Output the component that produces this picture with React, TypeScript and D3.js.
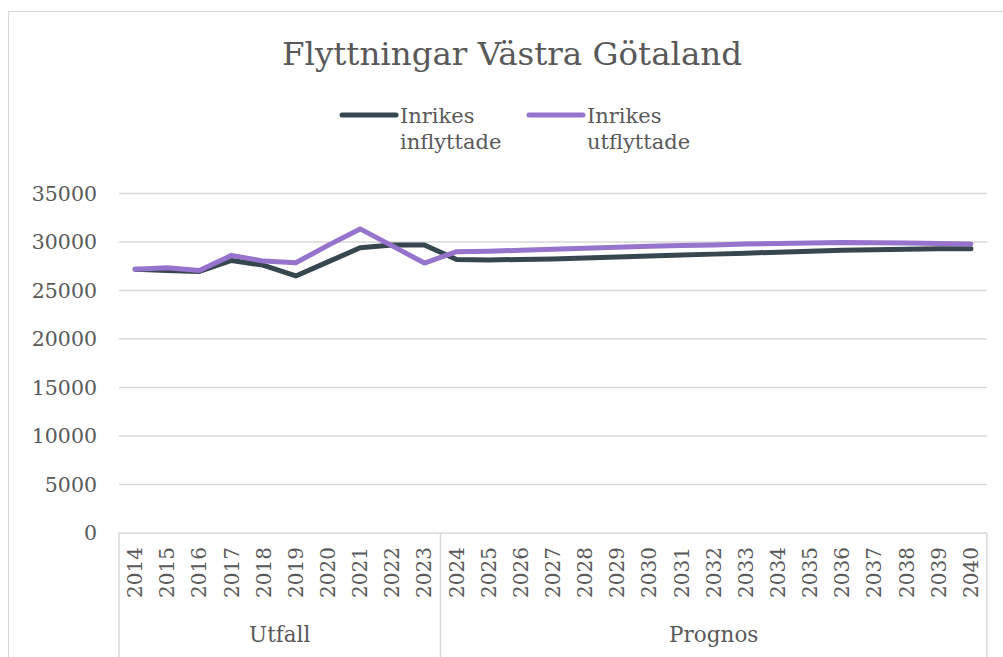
import { useEffect, useRef } from "react";
import * as d3 from "d3";

// Flyttningar Västra Götaland — inrikes in/utflyttade, utfall + prognos
const years = [
  "2014", "2015", "2016", "2017", "2018", "2019", "2020", "2021", "2022", "2023",
  "2024", "2025", "2026", "2027", "2028", "2029", "2030", "2031", "2032", "2033",
  "2034", "2035", "2036", "2037", "2038", "2039", "2040",
];
const inflyttade = [
  27200, 27070, 26970, 28100, 27600, 26500, 27950, 29400, 29700, 29700,
  28200, 28150, 28200, 28250, 28350, 28450, 28550, 28650, 28750, 28850,
  28950, 29050, 29150, 29200, 29250, 29300, 29300,
];
const utflyttade = [
  27180, 27350, 27070, 28620, 28030, 27860, 29650, 31350, 29600, 27830,
  29000, 29050, 29150, 29250, 29350, 29450, 29550, 29650, 29700, 29800,
  29850, 29900, 29950, 29920, 29900, 29850, 29800,
];
const yTicks = [0, 5000, 10000, 15000, 20000, 25000, 30000, 35000];
const groups = [
  { label: "Utfall", from: "2014", to: "2023" },
  { label: "Prognos", from: "2024", to: "2040" },
];
const seriesNames = [["Inrikes", "inflyttade"], ["Inrikes", "utflyttade"]];
const colors = ["#37474f", "#9673cc"];

const W = 1003;
const H = 657;
const FONT = "'DejaVu Serif', serif";
const INK = "#595959";

export default function App() {
  const ref = useRef<SVGSVGElement>(null);

  useEffect(() => {
    const svg = d3.select(ref.current);
    svg.selectAll("*").remove();

    const left = 119, right = 987, top = 193.5, bottom = 533;
    const x = d3.scaleBand<string>().domain(years).range([left, right]);
    const cx = (d: string) => (x(d) ?? 0) + x.bandwidth() / 2;
    const y = d3.scaleLinear().domain([0, 35000]).range([bottom, top]);

    // outer frame
    svg.append("rect")
      .attr("x", 8.5).attr("y", 11.5).attr("width", W).attr("height", H)
      .attr("fill", "#fff").attr("stroke", "#d9d9d9").attr("stroke-width", 1);

    // title
    svg.append("text")
      .attr("x", 512).attr("y", 65)
      .attr("text-anchor", "middle")
      .attr("font-family", FONT).attr("font-size", 32.5)
      .attr("fill", INK)
      .text("Flyttningar Västra Götaland");

    // legend
    const legX = [342, 529];
    seriesNames.forEach((lines, i) => {
      svg.append("line")
        .attr("x1", legX[i]).attr("x2", legX[i] + 54)
        .attr("y1", 115).attr("y2", 115)
        .attr("stroke", colors[i]).attr("stroke-width", 5)
        .attr("stroke-linecap", "round");
      lines.forEach((t, j) => {
        svg.append("text")
          .attr("x", legX[i] + 58).attr("y", 123 + j * 26)
          .attr("font-family", FONT).attr("font-size", 21)
          .attr("fill", INK)
          .text(t);
      });
    });

    // gridlines
    svg.append("g").selectAll("line")
      .data(yTicks.filter((t) => t > 0))
      .join("line")
      .attr("x1", left).attr("x2", right)
      .attr("y1", (d) => y(d)).attr("y2", (d) => y(d))
      .attr("stroke", "#d9d9d9").attr("stroke-width", 1.5);

    // y labels
    svg.append("g").selectAll("text")
      .data(yTicks)
      .join("text")
      .attr("x", 97).attr("y", (d) => y(d))
      .attr("dy", "0.35em")
      .attr("text-anchor", "end")
      .attr("font-family", FONT).attr("font-size", 20.5)
      .attr("fill", INK)
      .text((d) => `${d}`);

    // category axis: baseline + group separators
    svg.append("line")
      .attr("x1", left).attr("x2", right)
      .attr("y1", bottom).attr("y2", bottom)
      .attr("stroke", "#d9d9d9").attr("stroke-width", 1.5);
    const seps = [left, ...groups.map((g) => (x(g.to) ?? 0) + x.bandwidth())];
    svg.append("g").selectAll("line")
      .data(seps)
      .join("line")
      .attr("x1", (d) => d).attr("x2", (d) => d)
      .attr("y1", bottom).attr("y2", H)
      .attr("stroke", "#d9d9d9").attr("stroke-width", 1.5);

    // year labels (rotated)
    svg.append("g").selectAll("text")
      .data(years)
      .join("text")
      .attr("transform", (d) => `translate(${cx(d) + 7},547) rotate(-90)`)
      .attr("text-anchor", "end")
      .attr("font-family", FONT).attr("font-size", 20)
      .attr("fill", INK)
      .text((d) => d);

    // group labels
    svg.append("g").selectAll("text")
      .data(groups)
      .join("text")
      .attr("x", (g) => ((x(g.from) ?? 0) + (x(g.to) ?? 0) + x.bandwidth()) / 2)
      .attr("y", 642)
      .attr("text-anchor", "middle")
      .attr("font-family", FONT).attr("font-size", 21.5)
      .attr("fill", INK)
      .text((g) => g.label);

    // series
    const line = d3.line<number>()
      .x((_d, i) => cx(years[i]))
      .y((d) => y(d));
    [inflyttade, utflyttade].forEach((s, i) => {
      svg.append("path")
        .attr("d", line(s))
        .attr("fill", "none")
        .attr("stroke", colors[i])
        .attr("stroke-width", 5)
        .attr("stroke-linejoin", "round")
        .attr("stroke-linecap", "round");
    });
  }, []);

  return (
    <svg
      ref={ref}
      width={W}
      height={H}
      style={{ position: "absolute", left: 0, top: 0, background: "#fff" }}
    />
  );
}
